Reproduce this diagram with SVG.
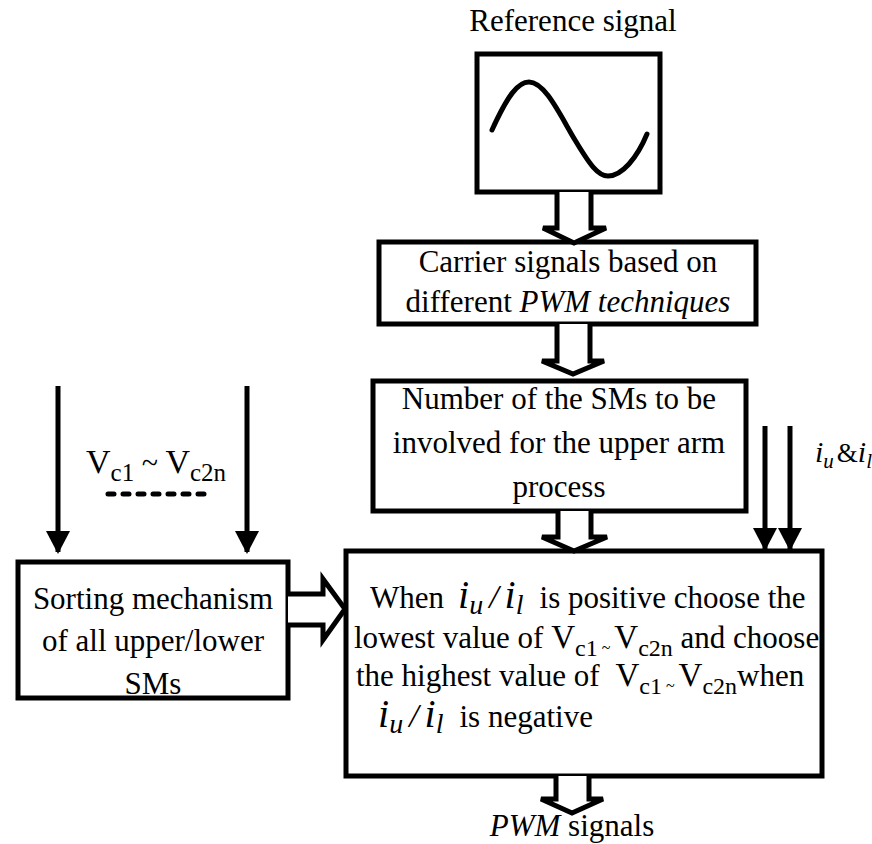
<svg xmlns="http://www.w3.org/2000/svg" width="872" height="844" viewBox="0 0 872 844">
  <style>
    .box { fill: #fff; stroke: #000; stroke-width: 5; }
    .txt { font-family: "Liberation Serif", "Times New Roman", Tinos, serif; font-size: 31px; fill: #000; }
    .it { font-style: italic; }
    .hollow { fill: #fff; stroke: #000; stroke-width: 5; stroke-linejoin: miter; }
    .wire { fill: none; stroke: #000; stroke-width: 5; }
  </style>
  <defs>
    <!-- solid arrowhead, drawn along +x so orient="auto" points it down the line -->
    <marker id="head" markerUnits="userSpaceOnUse" markerWidth="24" markerHeight="26" refX="21" refY="13" orient="auto" viewBox="0 0 24 26">
      <path d="M0,1 L23,13 L0,25 Z" fill="#000"/>
    </marker>
  </defs>
  <rect width="872" height="844" fill="#fff"/>

  <!-- reference signal block -->
  <g id="reference">
    <text class="txt" x="573" y="31" text-anchor="middle">Reference signal</text>
    <rect class="box" x="477" y="54" width="183" height="138"/>
    <path class="wire" stroke-linecap="round" d="M492,130 C508,95 518,82 529,82 C545,82 560,115 575,140 C590,165 598,176 608,176 C622,176 637,158 647,134"/>
  </g>

  <!-- carrier block -->
  <g id="carrier">
    <rect class="box" x="379" y="242" width="377" height="82"/>
    <text class="txt" x="568" y="272" text-anchor="middle">Carrier signals based on</text>
    <text class="txt" x="568" y="312" text-anchor="middle">different <tspan class="it">PWM techniques</tspan></text>
  </g>

  <!-- SM count block -->
  <g id="smcount">
    <rect class="box" x="373" y="381" width="373" height="130"/>
    <text class="txt" x="559" y="409" text-anchor="middle">Number of the SMs to be</text>
    <text class="txt" x="559" y="453" text-anchor="middle">involved for the upper arm</text>
    <text class="txt" x="559" y="497" text-anchor="middle">process</text>
  </g>

  <!-- sorting block -->
  <g id="sorting">
    <rect class="box" x="18" y="562" width="270" height="136"/>
    <text class="txt" x="153" y="609" text-anchor="middle">Sorting mechanism</text>
    <text class="txt" x="153" y="651" text-anchor="middle">of all upper/lower</text>
    <text class="txt" x="153" y="694" text-anchor="middle">SMs</text>
  </g>

  <!-- selection block -->
  <g id="selection">
    <rect class="box" x="346" y="551" width="476" height="225"/>
    <text class="txt" x="370" y="608">When<tspan class="it" font-size="40" dx="14">i</tspan><tspan class="it" font-size="28" dy="6">u</tspan><tspan class="it" font-size="34" dy="-6" dx="6">/</tspan><tspan class="it" font-size="40" dx="6">i</tspan><tspan class="it" font-size="28" dy="6">l</tspan><tspan dy="-6" dx="16">is positive choose the</tspan></text>
    <text class="txt" x="354" y="648">lowest value of <tspan font-size="33">V</tspan><tspan font-size="24" dy="8">c1</tspan><tspan font-size="16" dy="-3"> ~ </tspan><tspan font-size="33" dy="-5">V</tspan><tspan font-size="24" dy="8">c2n</tspan><tspan dy="-8"> and choose</tspan></text>
    <text class="txt" x="356" y="686">the highest value of  <tspan font-size="33" dx="8">V</tspan><tspan font-size="24" dy="8">c1</tspan><tspan font-size="16" dy="-3"> ~ </tspan><tspan font-size="33" dy="-5">V</tspan><tspan font-size="24" dy="8">c2n</tspan><tspan dy="-8">when</tspan></text>
    <text class="txt" x="378" y="727"><tspan class="it" font-size="40">i</tspan><tspan class="it" font-size="28" dy="6">u</tspan><tspan class="it" font-size="34" dy="-6" dx="6">/</tspan><tspan class="it" font-size="40" dx="6">i</tspan><tspan class="it" font-size="28" dy="6">l</tspan><tspan dy="-6" dx="16">is negative</tspan></text>
  </g>

  <!-- output label -->
  <g id="output">
    <text class="txt" x="572" y="836" text-anchor="middle"><tspan class="it">PWM</tspan> signals</text>
  </g>

  <!-- capacitor voltage label -->
  <g id="vlabel">
    <text class="txt" x="86" y="473"><tspan font-size="34">V</tspan><tspan font-size="25" dy="8">c1</tspan><tspan font-size="30" dy="-8"> ~ </tspan><tspan font-size="34">V</tspan><tspan font-size="25" dy="8">c2n</tspan></text>
    <line x1="108" y1="494" x2="212" y2="494" stroke="#000" stroke-width="5" stroke-linecap="round" stroke-dasharray="6 9"/>
  </g>

  <!-- current label -->
  <g id="ilabel">
    <text class="txt" x="815" y="462"><tspan class="it" font-size="30">i</tspan><tspan class="it" font-size="21" dy="6">u</tspan><tspan font-size="27" dy="-6" dx="3">&amp;</tspan><tspan class="it" font-size="30">i</tspan><tspan class="it" font-size="21" dy="6">l</tspan></text>
  </g>

  <g id="connectors">
    <path class="hollow" d="M557,192 V228 H543 L574,243 L606,228 H591 V192"/>
    <path class="hollow" d="M557,324 V361 H542 L573,374 L604,361 H590 V324"/>
    <path class="hollow" d="M558,511 V537 H542 L574,551 L607,537 H591 V511"/>
    <path class="hollow" d="M556,776 V799 H541 L572,813 L603,799 H589 V776"/>
    <path class="hollow" d="M288,594 H323 V579 L345,609 L323,640 V625 H288"/>
    <line class="wire" x1="58" y1="386" x2="58" y2="552" marker-end="url(#head)"/>
    <line class="wire" x1="247" y1="386" x2="247" y2="552" marker-end="url(#head)"/>
    <line class="wire" x1="765" y1="426" x2="765" y2="549" marker-end="url(#head)"/>
    <line class="wire" x1="790" y1="426" x2="790" y2="549" marker-end="url(#head)"/>
  </g>
</svg>
